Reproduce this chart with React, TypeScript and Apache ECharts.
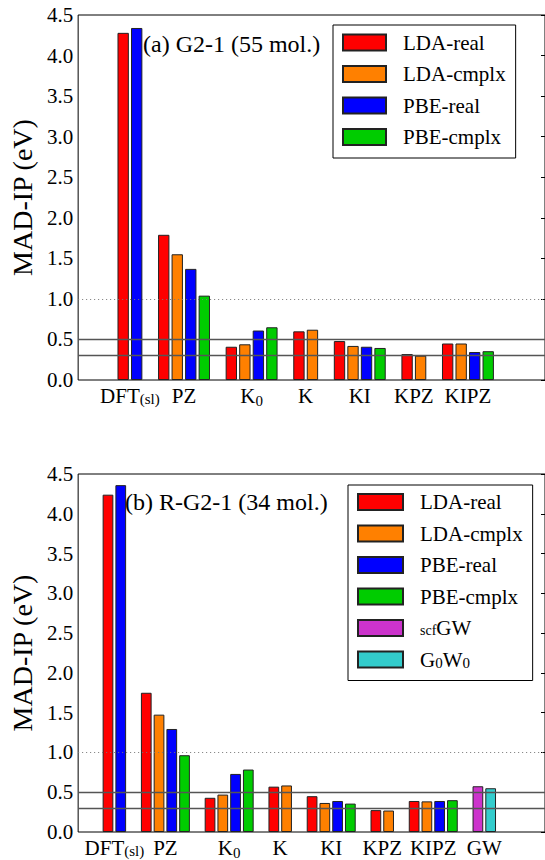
import React, { useEffect, useRef } from 'react';
import * as echarts from 'echarts';

// ---- data ----
const categoriesA = ['DFT(sl)', 'PZ', 'K0', 'K', 'KI', 'KPZ', 'KIPZ'];
const categoriesB = ['DFT(sl)', 'PZ', 'K0', 'K', 'KI', 'KPZ', 'KIPZ', 'GW'];
const seriesNamesA = ['LDA-real', 'LDA-cmplx', 'PBE-real', 'PBE-cmplx'];
const seriesNamesB = ['LDA-real', 'LDA-cmplx', 'PBE-real', 'PBE-cmplx', 'scfGW', 'G0W0'];

// (a) G2-1 (55 mol.)
const ldaRealA = [4.28, 1.79, 0.41, 0.6, 0.48, 0.32, 0.45];
const ldaCmplxA = [null, 1.55, 0.44, 0.62, 0.42, 0.3, 0.45];
const pbeRealA = [4.34, 1.37, 0.61, null, 0.41, null, 0.345];
const pbeCmplxA = [null, 1.04, 0.65, null, 0.395, null, 0.355];

// (b) R-G2-1 (34 mol.)
const ldaRealB = [4.24, 1.75, 0.43, 0.57, 0.45, 0.275, 0.39, null];
const ldaCmplxB = [null, 1.475, 0.47, 0.585, 0.365, 0.27, 0.385, null];
const pbeRealB = [4.36, 1.295, 0.73, null, 0.39, null, 0.39, null];
const pbeCmplxB = [null, 0.965, 0.785, null, 0.357, null, 0.4, null];
const scfGWB = [null, null, null, null, null, null, null, 0.575];
const g0w0B = [null, null, null, null, null, null, null, 0.55];

const refLines = [1.0, 0.5, 0.3];
const yMin = 0;
const yMax = 4.5;
const yInterval = 0.5;

const colors = ['#ff0000', '#ff8000', '#0000ff', '#00cc00', '#cc33cc', '#33cccc'];
const FONT = "'Liberation Serif', 'Times New Roman', Times, serif";

const catLabelRich: Record<string, string> = {
  'DFT(sl)': 'DFT{s|(sl)}',
  K0: 'K{sub|0}',
};
const legendRich: Record<string, string> = {
  scfGW: '{lsub|scf}GW',
  G0W0: 'G{lsub2|0}W{lsub2|0}',
};

type Num = number | null;

function layoutSlots(values: Num[][], nCats: number) {
  const slots: (number | null)[][] = values.map(() => []);
  const centers: number[] = [];
  let pos = 0;
  for (let c = 0; c < nCats; c++) {
    const first = pos;
    values.forEach((vals, s) => {
      if (vals[c] != null) {
        slots[s][c] = pos;
        pos++;
      } else {
        slots[s][c] = null;
      }
    });
    centers.push((first + pos - 1) / 2);
    pos++;
  }
  return { slots, centers };
}

function buildPanel(
  idx: number,
  cats: string[],
  names: string[],
  values: Num[][],
  xMin: number,
  xMax: number
) {
  const { slots, centers } = layoutSlots(values, cats.length);
  const labelMap: Record<string, string> = {};
  centers.forEach((c, i) => {
    labelMap[c.toFixed(2)] = catLabelRich[cats[i]] || cats[i];
  });
  const xAxis = {
    type: 'value',
    gridIndex: idx,
    min: xMin,
    max: xMax,
    splitLine: { show: false },
    axisLine: { show: false },
    axisTick: { show: false },
    axisLabel: {
      customValues: centers,
      showMinLabel: true,
      showMaxLabel: true,
      hideOverlap: false,
      margin: 4,
      formatter: (v: number) => labelMap[v.toFixed(2)] || '',
      color: '#000',
      fontFamily: FONT,
      fontSize: 21,
      lineHeight: 24,
      rich: {
        s: { fontFamily: FONT, fontSize: 15, lineHeight: 17, padding: [0, 0, 2, 0], verticalAlign: 'bottom', color: '#000' },
        sub: { fontFamily: FONT, fontSize: 15, lineHeight: 15, verticalAlign: 'bottom', color: '#000' },
      },
    },
  };
  const yLeft = {
    type: 'value',
    gridIndex: idx,
    min: yMin,
    max: yMax,
    interval: yInterval,
    position: 'left',
    name: 'MAD-IP (eV)',
    nameLocation: 'middle',
    nameGap: 34,
    nameTextStyle: { fontFamily: FONT, fontSize: 28, color: '#000' },
    splitLine: { show: false },
    axisLine: { show: false },
    axisTick: { show: false },
    axisLabel: {
      margin: 5,
      color: '#000',
      fontFamily: FONT,
      fontSize: 21,
      formatter: (v: number) => v.toFixed(1),
    },
  };
  const yRight = {
    type: 'value',
    gridIndex: idx,
    min: yMin,
    max: yMax,
    interval: yInterval,
    position: 'right',
    splitLine: { show: false },
    axisLine: { show: false },
    axisTick: { show: true, inside: true, length: 4, lineStyle: { color: '#000', width: 1 } },
    axisLabel: { show: false },
  };
  const series: any[] = values.map((vals, s) => ({
    type: 'bar',
    name: names[s],
    xAxisIndex: idx,
    yAxisIndex: idx * 2,
    barWidth: '84%',
    barGap: '-100%',
    z: 3,
    itemStyle: { color: colors[s], borderColor: '#222', borderWidth: 1 },
    data: vals
      .map((v, c) => (v == null ? null : [slots[s][c], v]))
      .filter((d) => d != null),
  }));
  series.push({
    type: 'line',
    xAxisIndex: idx,
    yAxisIndex: idx * 2,
    data: [],
    z: 1,
    silent: true,
    markLine: {
      silent: true,
      symbol: 'none',
      label: { show: false },
      animation: false,
      data: refLines.map((y) => ({
        yAxis: y,
        lineStyle:
          y === 1.0
            ? { color: '#777', width: 1, type: [1, 3] }
            : { color: '#555', width: 1.3, type: 'solid' },
      })),
    },
  });
  return { xAxis, yAxes: [yLeft, yRight], series };
}

export default function App() {
  const ref = useRef<HTMLDivElement>(null);
  useEffect(() => {
    document.body.style.margin = '0';
    if (!ref.current) return;
    const chart = echarts.init(ref.current, undefined, { renderer: 'svg' });
    const pA = buildPanel(0, categoriesA, seriesNamesA, [ldaRealA, ldaCmplxA, pbeRealA, pbeCmplxA], -3.33, 31.2);
    const pB = buildPanel(
      1,
      categoriesB,
      seriesNamesB,
      [ldaRealB, ldaCmplxB, pbeRealB, pbeCmplxB, scfGWB, g0w0B],
      -2.34,
      34.26
    );
    const legendBase = {
      orient: 'vertical',
      align: 'left',
      icon: 'rect',
      itemWidth: 43,
      itemHeight: 16,
      itemGap: 9.5,
      backgroundColor: '#fff',
      borderColor: '#000',
      borderWidth: 1,
      borderRadius: 0,
      selectedMode: false,
      formatter: (n: string) => legendRich[n] || n,
      textStyle: {
        fontFamily: FONT,
        fontSize: 21,
        lineHeight: 22,
        color: '#000',
        padding: [0, 0, 0, 12],
        rich: {
          lsub: { fontFamily: FONT, fontSize: 14, lineHeight: 16, padding: [0, 0, 2, 0], verticalAlign: 'bottom', color: '#000' },
          lsub2: { fontFamily: FONT, fontSize: 15, lineHeight: 15, verticalAlign: 'bottom', color: '#000' },
        },
      },
    };
    chart.setOption({
      animation: false,
      backgroundColor: '#fff',
      title: [
        {
          text: '(a) G2-1 (55 mol.)',
          left: 143,
          top: 32,
          padding: 0,
          textStyle: { fontFamily: FONT, fontSize: 24, fontWeight: 'normal', color: '#000' },
        },
        {
          text: '(b) R-G2-1 (34 mol.)',
          left: 125,
          top: 490,
          padding: 0,
          textStyle: { fontFamily: FONT, fontSize: 24, fontWeight: 'normal', color: '#000' },
        },
      ],
      legend: [
        { ...legendBase, data: seriesNamesA, left: 333, top: 25, padding: [6.5, 10, 10, 9] },
        { ...legendBase, data: seriesNamesB, left: 348, top: 485, padding: [6, 10, 10, 9], itemWidth: 45 },
      ],
      grid: [
        { left: 72, top: 15, width: 474, height: 365, show: true, borderColor: '#000', borderWidth: 1, backgroundColor: 'transparent' },
        { left: 72, top: 474, width: 474, height: 366, show: true, borderColor: '#000', borderWidth: 1, backgroundColor: 'transparent' },
      ],
      xAxis: [pA.xAxis, pB.xAxis],
      yAxis: [...pA.yAxes, ...pB.yAxes],
      series: [...pA.series, ...pB.series],
    });
    return () => chart.dispose();
  }, []);
  return <div ref={ref} style={{ width: 545, height: 860 }} />;
}
